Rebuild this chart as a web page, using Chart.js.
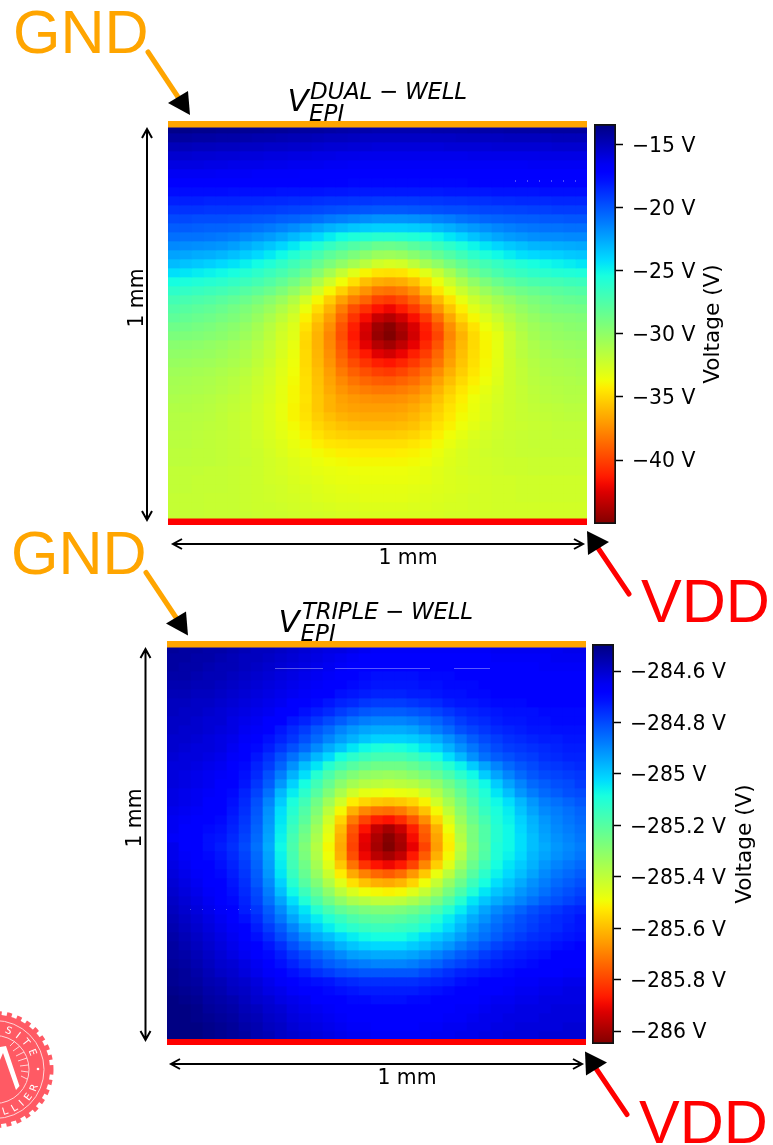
<!DOCTYPE html>
<html>
<head>
<meta charset="utf-8">
<title>Epi voltage maps</title>
<script src="https://cdn.jsdelivr.net/npm/chart.js@4"></script>
<style>
html,body{margin:0;padding:0;background:#fff;}
body{position:relative;width:773px;height:1145px;overflow:hidden;font-family:"DejaVu Sans",sans-serif;}
canvas{position:absolute;}
svg{position:absolute;left:0;top:0;}
</style>
</head>
<body>
<canvas id="dualMap" width="420" height="396" style="left:168px;top:124px;clip-path:inset(0 1px 0 0)"></canvas>
<canvas id="tripleMap" width="420" height="396" style="left:167px;top:644px;clip-path:inset(0 1px 0 0)"></canvas>
<canvas id="dualBar" width="162" height="420" style="left:584px;top:114px"></canvas>
<canvas id="tripleBar" width="162" height="420" style="left:582px;top:634px"></canvas>

<svg width="773" height="1145" xmlns="http://www.w3.org/2000/svg">
  <g id="seal">
    <circle cx="-5" cy="1069.500" r="55" fill="#ff5a64"/>
    <circle cx="-5" cy="1069.500" r="56" fill="none" stroke="#ff5a64" stroke-width="5" stroke-dasharray="5 5.200"/>
    <circle cx="-5" cy="1069.500" r="49" fill="none" stroke="#ffd5d8" stroke-width="1"/>
    <circle cx="-5" cy="1069.500" r="34" fill="none" stroke="#ffd5d8" stroke-width="1"/>
    <path id="sealTop" d="M -43 1069.500 A 38 38 0 0 1 33 1069.500" fill="none"/>
    <path id="sealBottom" d="M -51 1069.500 A 46 46 0 0 0 41 1069.500" fill="none"/>
    <text font-size="10" fill="#fff" letter-spacing="5" text-anchor="end"><textPath href="#sealTop" startOffset="93%">UNIVERSITE</textPath></text>
    <text font-size="10" fill="#fff" letter-spacing="5" text-anchor="end"><textPath href="#sealBottom" startOffset="92%">MONTPELLIER</textPath></text>
    <circle cx="38" cy="1069" r="1.300" fill="#fff"/>
    <path d="M0 1047 L6 1046 L19.500 1086 L16 1090 L3 1053 L0 1060 Z" fill="#fff"/>
    <path d="M10 1046 L15 1041 M13 1051 L20 1046 M16 1056 L24 1052 M18 1061 L27 1058 M20 1066 L28 1065 M21 1071 L28 1072 M21 1076 L27 1079" stroke="#ffd5d8" stroke-width="1" fill="none"/>
  </g>

  <g id="panelOne">
    <rect x="168" y="121" width="419" height="6.500" fill="#ffa500"/>
    <rect x="168" y="518.500" width="419" height="6.500" fill="#ff0000"/>
    <text x="287.500" y="110.500" font-size="31" font-style="italic" fill="#000">V</text>
    <text x="310" y="98.500" font-size="23" font-style="italic" fill="#000" textLength="157">DUAL − WELL</text>
    <text x="309" y="121" font-size="23" font-style="italic" fill="#000">EPI</text>
    <path d="M147 129 V520 M142 138 L147 129 L152 138 M142 511 L147 520 L152 511" fill="none" stroke="#000" stroke-width="2"/>
    <path d="M173 544 H583 M182 539 L173 544 L182 549 M574 539 L583 544 L574 549" fill="none" stroke="#000" stroke-width="2"/>
    <text x="408" y="564" font-size="20.400" text-anchor="middle" fill="#000">1 mm</text>
    <text transform="translate(143 298) rotate(-90)" font-size="20.400" text-anchor="middle" fill="#000">1 mm</text>
    <text transform="translate(719 324) rotate(-90)" font-size="21.600" text-anchor="middle" fill="#000">Voltage (V)</text>
    <path d="M515 181 H577" stroke="#fff" stroke-width="1" stroke-dasharray="1 11" opacity="0.6"/>
  </g>
  <g id="panelTwo">
    <rect x="167" y="641" width="419" height="6.500" fill="#ffa500"/>
    <rect x="167" y="1039" width="419" height="6" fill="#ff0000"/>
    <text x="278.500" y="632" font-size="31" font-style="italic" fill="#000">V</text>
    <text x="302" y="618.500" font-size="23" font-style="italic" fill="#000" textLength="171">TRIPLE − WELL</text>
    <text x="300.500" y="640.500" font-size="23" font-style="italic" fill="#000">EPI</text>
    <path d="M145.500 649 V1040 M140.500 658 L145.500 649 L150.500 658 M140.500 1031 L145.500 1040 L150.500 1031" fill="none" stroke="#000" stroke-width="2"/>
    <path d="M171 1064 H582 M180 1059 L171 1064 L180 1069 M573 1059 L582 1064 L573 1069" fill="none" stroke="#000" stroke-width="2"/>
    <text x="407" y="1084" font-size="20.400" text-anchor="middle" fill="#000">1 mm</text>
    <text transform="translate(141 818) rotate(-90)" font-size="20.400" text-anchor="middle" fill="#000">1 mm</text>
    <text transform="translate(751 844) rotate(-90)" font-size="21.600" text-anchor="middle" fill="#000">Voltage (V)</text>
    <path d="M275 668.500 H323 M335 668.500 H430 M454 668.500 H490" stroke="#fff" stroke-width="1" opacity="0.35"/>
    <path d="M190 909.500 H262" stroke="#fff" stroke-width="1" stroke-dasharray="1 11" opacity="0.3"/>
  </g>

  <g id="supplyOne" font-family="'Liberation Sans',Arial,sans-serif" font-size="61">
    <text x="13" y="53" fill="#ffa500">GND</text>
    <path d="M148 52 L180 100" stroke="#ffa500" stroke-width="5" stroke-linecap="round"/>
    <path d="M168 103 L188 91 L190 115 Z" fill="#000"/>
    <text x="641" y="622" fill="#ff0000">VDD</text>
    <path d="M629 594 L598 548" stroke="#ff0000" stroke-width="5" stroke-linecap="round"/>
    <path d="M587 531 L609 542 L588 555 Z" fill="#000"/>
  </g>
  <g id="supplyTwo" font-family="'Liberation Sans',Arial,sans-serif" font-size="61" transform="translate(-2 520.500)">
    <text x="13" y="53" fill="#ffa500">GND</text>
    <path d="M148 52 L180 100" stroke="#ffa500" stroke-width="5" stroke-linecap="round"/>
    <path d="M168 103 L188 91 L190 115 Z" fill="#000"/>
    <text x="641" y="622" fill="#ff0000">VDD</text>
    <path d="M629 594 L598 548" stroke="#ff0000" stroke-width="5" stroke-linecap="round"/>
    <path d="M587 531 L609 542 L588 555 Z" fill="#000"/>
  </g>
</svg>

<script>
// colour bar limits and ticks, volts
const dualTop = -13.4;
const dualBottom = -45.05;
const tripleTop = -284.495;
const tripleBottom = -286.05;
const dualTicks = [-15, -20, -25, -30, -35, -40];
const tripleTicks = [-284.6, -284.8, -285, -285.2, -285.4, -285.6, -285.8, -286];

// dual well map, top row first, in tenths of a volt below 0 V
const dualDeciVolts = [
[137,137,138,138,139,139,140,140,141,141,142,143,143,144,145,146,146,147,147,147,147,147,146,146,146,145,145,145,144,144,144,143,143,143,143],
[143,143,144,144,145,145,146,147,147,148,149,149,150,151,151,152,153,153,153,153,153,153,153,153,152,152,152,152,151,151,151,151,150,150,150],
[150,150,151,151,152,152,153,153,154,154,155,155,156,157,157,158,158,159,159,159,159,159,159,158,158,158,158,157,157,157,157,157,156,156,156],
[156,156,157,157,158,158,159,159,160,160,161,161,162,162,163,163,164,164,164,164,164,164,164,164,164,163,163,163,163,163,163,162,162,162,162],
[161,161,161,162,162,163,163,163,164,164,165,165,165,166,166,167,167,167,167,167,167,167,167,167,167,167,167,167,167,167,166,166,166,166,166],
[166,166,166,166,167,167,167,168,168,168,168,169,169,169,170,170,170,170,170,170,170,170,170,170,170,170,170,170,170,170,169,169,169,169,169],
[170,170,170,171,171,171,171,172,172,172,173,173,173,174,174,175,175,175,175,175,175,175,175,175,175,174,174,174,174,174,174,174,174,174,174],
[177,177,177,177,177,178,178,178,178,179,179,179,179,180,180,181,181,181,181,181,181,181,181,180,180,180,180,179,179,179,179,178,178,178,178],
[183,183,183,184,184,184,185,185,186,186,187,187,188,189,189,190,190,191,191,191,191,190,190,189,189,188,188,187,187,186,186,186,185,185,185],
[189,189,189,190,190,190,191,192,192,193,194,195,196,197,198,199,200,201,201,201,200,199,198,197,197,196,195,195,194,194,193,193,192,192,192],
[196,196,197,197,197,198,199,200,201,203,204,206,208,211,213,215,217,219,219,219,218,216,214,212,209,207,205,204,203,202,202,201,201,200,200],
[202,202,203,204,204,205,207,209,211,214,217,221,225,229,232,235,237,238,238,238,237,235,231,228,224,221,218,215,213,211,210,209,209,208,208],
[208,209,209,210,211,213,216,219,222,226,231,236,241,247,252,256,258,260,260,259,257,254,250,245,240,234,229,225,222,220,218,217,217,216,216],
[216,217,218,219,220,223,227,231,235,240,246,252,258,265,271,276,280,285,286,284,279,274,268,262,256,250,245,240,236,233,230,229,228,227,226],
[224,225,227,228,230,233,237,241,246,251,258,265,272,280,286,292,298,304,305,303,297,290,283,276,269,262,256,251,247,243,241,239,238,236,235],
[232,234,236,238,241,244,248,252,257,263,269,276,284,292,300,308,316,324,327,325,317,308,300,291,283,276,270,265,261,257,254,251,249,247,245],
[243,245,247,249,251,254,258,262,267,272,278,286,296,308,320,331,340,346,347,346,340,331,320,308,296,286,279,273,268,265,262,260,258,257,256],
[253,255,257,259,261,264,267,271,276,282,289,298,311,324,337,347,358,364,366,364,358,347,335,322,310,300,292,285,280,276,273,271,270,268,267],
[262,264,266,268,270,273,277,281,286,293,301,311,325,339,352,364,373,382,384,381,374,360,345,334,322,312,304,297,291,287,284,281,279,277,276],
[270,272,274,276,279,282,286,291,297,304,313,326,339,353,368,380,389,400,403,398,389,376,360,346,334,323,315,308,302,296,292,289,286,284,283],
[276,278,280,282,285,289,293,298,304,312,320,335,348,362,380,396,406,416,420,413,403,390,372,356,342,331,323,315,308,302,297,293,291,290,289],
[281,283,285,287,290,293,297,303,310,318,326,341,355,369,388,405,418,431,436,428,417,403,385,366,350,339,330,322,314,307,302,298,296,295,294],
[287,288,290,292,295,298,302,308,315,323,330,346,360,374,394,412,426,442,448,438,426,412,395,374,358,346,336,328,318,311,306,302,300,298,297],
[292,293,294,296,298,301,305,310,317,325,331,349,362,377,396,414,428,444,450,441,428,414,399,377,362,349,339,333,322,314,308,304,302,301,300],
[297,298,299,301,303,306,309,314,320,327,334,350,362,376,393,410,423,436,441,433,422,409,394,374,360,349,340,333,322,316,311,307,305,304,303],
[300,301,302,303,305,308,311,316,321,328,335,349,361,374,390,404,414,424,428,421,412,402,388,371,358,348,340,333,322,316,312,309,307,306,305],
[303,304,305,306,308,310,313,318,323,330,336,349,360,372,386,397,405,412,415,410,403,394,383,368,356,347,339,332,323,318,314,311,310,309,308],
[306,307,308,309,311,313,316,320,325,331,337,348,358,369,381,390,396,401,403,399,393,385,375,363,353,345,338,331,323,319,315,312,311,310,309],
[308,309,310,311,313,315,318,322,326,332,338,347,357,367,376,383,388,391,392,389,385,378,368,358,349,342,336,330,323,319,316,314,313,312,311],
[309,310,311,312,314,316,319,323,327,333,339,347,356,365,372,377,380,382,382,380,377,371,362,353,345,339,333,328,323,320,317,315,314,313,313],
[311,312,313,314,316,318,320,324,328,333,339,346,355,362,368,371,373,374,374,373,370,365,357,349,342,336,331,327,323,320,318,316,315,314,314],
[313,313,314,315,317,319,321,325,329,334,340,347,355,362,366,368,369,369,369,368,365,360,353,346,340,335,330,326,323,321,319,318,317,316,316],
[314,315,315,316,318,320,322,325,329,334,340,346,353,358,362,364,365,365,365,364,361,356,350,344,338,334,330,326,323,321,320,319,318,317,317],
[314,315,316,317,318,320,322,325,329,333,338,344,350,354,357,359,360,360,360,359,357,352,346,341,336,332,328,325,323,322,321,320,319,319,319],
[316,316,317,318,319,320,322,325,328,332,336,341,346,350,352,353,354,354,354,353,351,347,342,337,333,329,326,324,322,321,320,320,319,319,319],
[316,316,317,318,319,320,322,324,327,330,334,338,342,345,346,347,347,347,347,347,345,342,338,334,330,327,325,323,322,321,320,320,320,320,320],
[317,317,318,318,319,320,322,323,326,329,332,335,338,340,342,342,343,343,343,342,341,338,335,331,328,326,324,323,322,321,321,320,320,320,320],
[317,317,318,318,319,320,321,323,325,327,330,332,335,337,338,339,339,339,339,339,338,336,333,330,328,326,325,324,323,323,322,322,322,322,322],
[319,319,319,320,320,321,322,323,325,327,329,331,333,334,335,336,336,336,336,336,335,333,331,329,327,326,325,324,323,323,322,322,322,322,322],
[319,319,320,320,320,321,322,323,325,326,328,330,331,333,334,334,335,335,335,335,334,333,331,329,328,327,326,325,325,324,324,324,324,324,324],
[319,319,320,320,320,321,322,323,324,325,327,328,330,331,332,333,333,333,333,333,332,331,330,329,328,327,326,325,325,324,324,324,324,324,324],
[320,320,320,321,321,321,322,323,324,325,326,327,329,330,331,331,332,332,332,332,331,330,329,328,327,326,326,325,325,324,324,324,324,324,324],
[320,320,320,321,321,321,322,323,323,324,325,326,327,328,329,329,330,330,330,330,329,329,328,327,327,326,326,325,325,325,325,325,325,325,325],
[320,320,320,321,321,321,321,322,323,323,324,325,325,326,327,327,328,328,328,328,328,327,327,326,326,326,325,325,325,325,325,325,325,325,325]
];

// triple well map, top row first, in hundredths of a volt below -284 V
const tripleCentiVolts = [
[53,54,54,55,55,56,57,58,58,59,60,61,62,63,63,64,65,66,66,66,66,66,66,66,66,66,66,65,65,65,65,65,65,64,64],
[54,54,55,55,56,57,58,58,59,60,61,62,63,64,65,66,67,67,68,68,68,68,67,67,67,67,67,66,66,66,66,66,65,65,65],
[54,55,55,56,57,57,58,59,60,61,62,63,64,65,66,67,68,69,69,69,69,69,69,68,68,68,68,67,67,67,67,66,66,66,66],
[55,55,56,57,57,58,59,60,61,62,63,64,65,66,67,69,70,71,71,71,71,70,70,70,69,69,69,68,68,68,67,67,67,67,67],
[56,56,57,57,58,59,60,61,62,63,64,65,66,67,69,70,71,72,72,72,72,71,71,70,70,70,69,69,69,68,68,68,67,67,67],
[57,57,58,58,59,60,61,62,63,64,65,66,67,69,71,72,73,74,74,74,73,73,72,71,71,70,70,69,69,69,69,68,68,68,68],
[58,58,59,59,60,61,62,63,64,65,67,68,70,72,74,75,77,78,78,78,77,76,75,73,72,72,71,70,70,70,69,69,69,69,69],
[58,59,59,60,61,62,63,64,65,67,69,71,73,75,78,80,82,83,83,83,82,81,79,77,75,74,73,72,71,71,71,70,70,70,70],
[59,59,60,61,61,63,64,65,67,69,72,74,77,80,83,86,88,89,89,89,88,86,84,81,78,76,75,73,72,72,71,71,70,70,70],
[59,60,60,61,62,63,65,66,69,72,75,78,82,85,89,92,94,95,95,95,94,91,88,85,81,79,77,75,74,73,72,72,71,71,71],
[60,60,61,62,63,64,66,68,71,74,77,81,85,89,93,96,99,101,101,101,100,98,95,91,87,83,80,78,76,75,74,73,73,72,72],
[60,61,62,62,63,65,67,70,73,77,81,85,90,95,99,104,107,109,110,109,107,104,101,96,91,87,83,80,78,77,76,75,74,73,73],
[61,62,62,63,64,66,69,72,76,81,86,91,97,102,108,112,115,117,117,117,115,112,108,103,97,91,86,83,81,79,78,76,75,74,74],
[62,62,63,64,65,67,70,74,78,84,91,98,104,111,116,120,123,125,125,125,123,120,116,111,106,100,94,89,85,82,80,78,77,76,75],
[62,63,64,65,66,68,71,75,81,88,96,103,111,118,124,128,131,132,133,132,130,127,123,118,112,107,100,94,89,85,82,80,79,78,77],
[62,63,64,65,67,69,72,77,83,92,101,108,116,123,130,135,138,139,140,139,138,135,131,125,119,113,107,100,94,89,85,83,81,80,78],
[63,64,65,66,68,70,74,79,86,97,105,112,120,128,136,143,147,148,149,148,147,143,137,130,123,116,110,104,98,92,88,85,83,81,80],
[63,64,65,67,68,71,75,81,89,100,109,116,125,134,143,152,156,158,159,158,156,151,143,135,127,119,112,107,103,97,92,88,86,84,82],
[64,65,66,68,69,72,76,82,91,103,111,119,128,139,150,162,169,172,173,171,166,159,150,140,130,122,114,109,105,99,94,90,88,86,84],
[65,66,67,69,70,73,77,83,92,104,113,121,131,143,156,171,180,186,188,184,177,168,156,145,133,124,117,110,106,101,96,92,89,87,85],
[65,67,68,70,71,74,78,84,93,105,115,124,134,146,160,177,188,196,200,195,186,175,162,149,136,127,119,111,107,102,97,93,90,88,86],
[66,68,69,71,72,75,79,85,94,106,117,126,136,148,162,179,191,199,204,199,189,177,164,151,138,127,119,111,107,103,98,94,91,89,87],
[64,67,69,71,73,76,80,86,95,107,118,128,138,150,163,180,192,200,205,200,191,180,165,152,140,128,120,110,107,103,98,95,92,90,88],
[64,66,68,70,72,75,79,85,94,106,117,127,137,149,162,178,190,197,200,196,187,176,162,150,138,127,119,110,106,102,97,94,91,89,87],
[63,65,67,69,71,74,78,84,93,105,116,125,135,146,158,172,183,188,190,187,180,169,157,146,134,124,116,108,104,100,96,92,89,87,85],
[62,64,66,68,70,73,77,83,92,104,114,123,132,142,152,163,170,174,176,173,166,158,148,139,129,120,112,106,102,98,94,90,87,85,83],
[61,63,65,67,69,72,76,82,90,101,111,120,128,137,146,154,159,162,163,161,156,149,141,132,124,115,108,103,99,95,91,88,85,83,81],
[60,62,64,66,68,71,75,80,88,98,107,115,123,131,139,145,149,150,151,150,146,141,134,126,118,110,104,99,96,92,89,86,83,81,79],
[59,61,63,65,67,70,74,79,86,94,103,110,118,125,131,136,138,140,140,139,136,132,126,119,111,104,99,95,92,89,86,83,81,79,77],
[58,60,62,64,66,69,73,77,83,90,98,104,111,117,122,125,127,128,128,127,125,122,117,111,105,99,94,90,87,84,81,79,77,75,74],
[57,59,61,63,65,68,71,75,81,87,94,100,105,110,114,118,120,121,121,120,118,115,110,105,100,95,91,87,84,81,79,77,75,74,72],
[56,58,60,62,64,66,69,73,78,83,89,95,100,105,109,112,114,115,115,114,113,110,106,102,97,92,88,85,82,80,78,76,75,73,72],
[55,57,59,61,63,65,68,71,75,80,85,90,95,98,102,105,107,108,108,108,106,103,100,97,93,89,86,83,80,78,76,75,73,72,71],
[54,56,58,60,62,64,66,69,72,76,81,85,89,92,96,99,101,102,102,102,100,98,95,92,88,85,82,79,77,75,74,73,71,70,69],
[54,55,57,59,61,63,65,67,70,73,77,80,84,87,90,93,94,95,95,95,94,92,89,86,83,81,78,76,74,73,72,71,69,68,68],
[53,54,56,58,60,61,63,65,68,71,74,77,80,83,85,87,88,89,89,89,88,86,84,81,79,77,75,73,72,71,70,69,68,67,67],
[52,53,55,57,59,60,62,64,66,69,71,73,76,78,80,81,82,82,82,82,82,80,78,76,74,73,72,71,70,69,68,67,67,66,66],
[52,53,54,56,57,59,60,62,64,66,68,70,71,72,74,75,76,76,76,76,76,75,74,73,71,70,69,68,67,66,66,65,65,64,64],
[51,52,53,55,56,58,59,61,63,64,66,67,69,70,71,72,73,73,73,73,73,72,71,70,69,68,67,67,66,65,65,64,64,63,63],
[50,51,52,54,55,56,58,60,61,63,64,65,67,68,69,70,70,71,71,71,70,70,69,68,67,67,66,65,65,64,64,63,63,63,63],
[50,50,51,53,54,55,57,58,60,61,63,64,65,66,67,68,69,69,69,69,69,68,68,67,66,66,65,64,64,63,63,63,62,62,62],
[50,50,51,52,53,54,56,57,59,60,62,63,64,65,66,67,68,68,68,68,68,67,67,66,66,65,64,64,63,63,63,62,62,62,62],
[50,50,50,51,52,53,55,56,58,59,61,62,63,64,65,66,66,67,67,67,67,66,66,65,65,64,64,63,63,62,62,62,62,61,61],
[50,50,50,51,52,53,54,56,57,59,60,61,62,63,64,65,65,66,66,66,66,66,65,65,64,64,63,63,62,62,62,61,61,61,61]
];

// matplotlib jet, position -> r,g,b
const jetRed = [[0,0],[0.35,0],[0.66,1],[0.89,1],[1,0.5]];
const jetGreen = [[0,0],[0.125,0],[0.375,1],[0.64,1],[0.91,0],[1,0]];
const jetBlue = [[0,0.5],[0.11,1],[0.34,1],[0.65,0],[1,0]];

function channel(stops, t){
    for (let i = 1; i < stops.length; i++) {
        if (t <= stops[i][0]) {
            const a = stops[i-1], b = stops[i];
            return a[1] + (b[1]-a[1]) * (t-a[0]) / (b[0]-a[0]);
        }
    }
    return stops[stops.length-1][1];
}

function jet(t){
    t = Math.min(1, Math.max(0, t));
    const r = Math.round(channel(jetRed, t) * 255);
    const g = Math.round(channel(jetGreen, t) * 255);
    const b = Math.round(channel(jetBlue, t) * 255);
    return `rgb(${r},${g},${b})`;
}

Chart.defaults.font.family = '"DejaVu Sans"';
Chart.defaults.color = '#000';
Chart.defaults.animation = false;

// one stacked bar per column, one dataset per row
function drawMap(id, volts, top, bottom){
    const rows = volts.length;
    new Chart(document.getElementById(id), {
        type: 'bar',
        data: {
            labels: volts[0].map((v, i) => i),
            datasets: volts.map(row => ({
                data: row.map(() => 1),
                backgroundColor: row.map(v => jet((top - v) / (top - bottom))),
                borderWidth: 0,
                barPercentage: 1,
                categoryPercentage: 1
            }))
        },
        options: {
            responsive: false,
            layout: { padding: 0 },
            plugins: { legend: { display: false }, tooltip: { enabled: false } },
            scales: {
                x: { stacked: true, display: false },
                y: { stacked: true, display: false, reverse: true, min: 0, max: rows }
            }
        }
    });
}

function drawColorBar(id, ticks, top, bottom){
    new Chart(document.getElementById(id), {
        type: 'bar',
        data: {
            labels: [''],
            datasets: [{
                data: [[bottom, top]],
                barPercentage: 1,
                categoryPercentage: 1,
                borderWidth: 2,
                borderColor: '#111',
                borderSkipped: false,
                backgroundColor: c => {
                    const area = c.chart.chartArea;
                    if (!area) return '#00f';
                    const grad = c.chart.ctx.createLinearGradient(0, area.top, 0, area.bottom);
                    for (let i = 0; i <= 50; i++) grad.addColorStop(i / 50, jet(i / 50));
                    return grad;
                }
            }]
        },
        options: {
            responsive: false,
            layout: { padding: { left: 10, top: 10, bottom: 10, right: 0 } },
            plugins: { legend: { display: false }, tooltip: { enabled: false } },
            scales: {
                x: { display: false },
                y: {
                    position: 'right',
                    min: bottom,
                    max: top,
                    afterBuildTicks: s => { s.ticks = ticks.map(v => ({ value: v })); },
                    afterFit: s => { s.width = 130; s.paddingTop = 0; s.paddingBottom = 0; },
                    border: { display: false },
                    grid: { drawOnChartArea: false, tickLength: 7, tickColor: '#000', tickWidth: 1.5 },
                    ticks: {
                        padding: 9,
                        labelOffset: 2,
                        autoSkip: false,
                        maxRotation: 0,
                        font: { size: 20.4 },
                        color: '#000',
                        callback: v => '\u2212' + Math.abs(v) + ' V'
                    }
                }
            }
        }
    });
}

drawMap('dualMap', dualDeciVolts.map(r => r.map(v => -v / 10)), dualTop, dualBottom);
drawMap('tripleMap', tripleCentiVolts.map(r => r.map(v => -284 - v / 100)), tripleTop, tripleBottom);
drawColorBar('dualBar', dualTicks, dualTop, dualBottom);
drawColorBar('tripleBar', tripleTicks, tripleTop, tripleBottom);
</script>
</body>
</html>
